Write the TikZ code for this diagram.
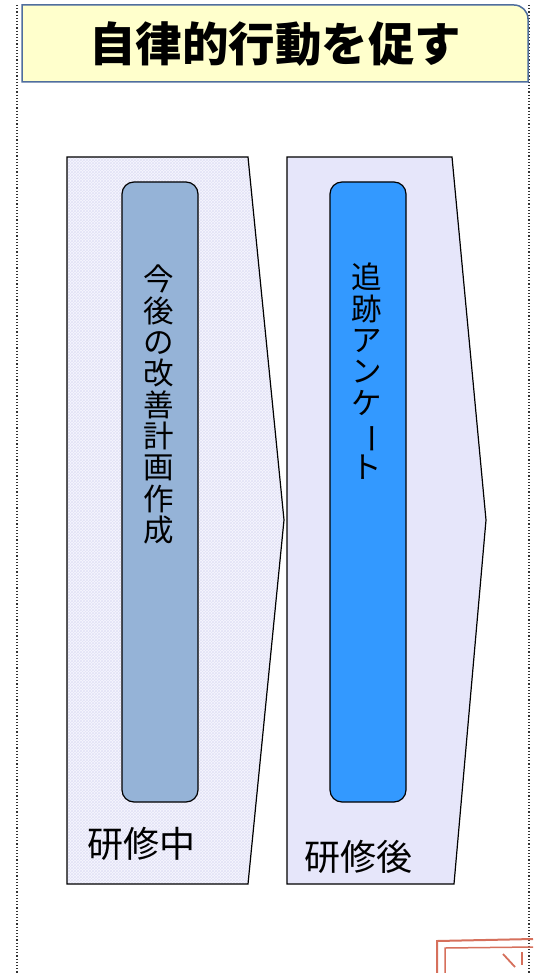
\documentclass[tikz,border=0pt]{standalone}
\usepackage{fontspec}
\setmainfont{Noto Sans CJK JP}
\usetikzlibrary{patterns}
\definecolor{titlefill}{RGB}{255,255,204}
\definecolor{titleedge}{RGB}{79,110,158}
\definecolor{leftbg}{RGB}{247,247,255}
\definecolor{lefthatch}{RGB}{226,226,246}
\definecolor{rightbg}{RGB}{230,230,250}
\definecolor{barone}{RGB}{149,179,215}
\definecolor{bartwo}{RGB}{51,153,255}
\definecolor{stamp}{RGB}{214,112,92}
\tikzset{
  chevron/.style={draw=black, line width=1.2pt, line join=miter},
  bar/.style={draw=black, line width=1.2pt, rounded corners=12pt},
  vtext/.style={align=center, font=\fontsize{30.5}{31.3}\selectfont, inner sep=0pt},
  phase/.style={font=\fontsize{36}{38}\selectfont, inner sep=0pt},
  frame/.style={dotted, line width=1.2pt, black!80},
  stampline/.style={draw=stamp, line width=2pt}
}
\begin{document}
\begin{tikzpicture}[x=1pt,y=-1pt]
\useasboundingbox (0,0) rectangle (533,973);
\fill[white] (0,0) rectangle (533,973);
% dotted frame
\draw[frame] (17,5) -- (17,973);
\draw[frame] (529,5) -- (529,973);
% title box
\draw[fill=titlefill, draw=titleedge, line width=1.5pt]
  (22,82) -- (22,5) -- (514,5) arc[start angle=-90, end angle=0, radius=14] -- (528,82) -- cycle;
\node[font=\fontsize{46.5}{50}\selectfont\bfseries, inner sep=0pt] (title) at (275,44) {自律的行動を促す};
% left chevron
\fill[leftbg] (67,157) -- (248,157) -- (284,520) -- (248,884) -- (67,884) -- cycle;
\fill[pattern=crosshatch, pattern color=lefthatch] (67,157) -- (248,157) -- (284,520) -- (248,884) -- (67,884) -- cycle;
\draw[chevron] (67,157) -- (248,157) -- (284,520) -- (248,884) -- (67,884) -- cycle;
% right chevron
\draw[chevron, fill=rightbg] (287,157) -- (452,157) -- (486,520) -- (454,884) -- (287,884) -- cycle;
% bars
\draw[bar, fill=barone] (122,182) rectangle (198,802);
\draw[bar, fill=bartwo] (330,182) rectangle (406,802);
% vertical texts
\node[vtext, anchor=north] (plan) at (159,265) {今\\後\\の\\改\\善\\計\\画\\作\\成};
\node[vtext, anchor=north] (survey) at (367,263) {追\\跡\\ア\\ン\\ケ\\\rotatebox[origin=c]{-90}{ー}\\ト};
% phase labels
\node[phase] (during) at (141,844) {研修中};
\node[phase] (after) at (358,857) {研修後};
% stamp fragment
\draw[stampline] (437,973) -- (437,941) -- (533,939);
\draw[stamp, line width=1.5pt] (445,973) -- (445,948) -- (533,947);
\draw[stamp, line width=1.8pt] (503,954) -- (515,967);
\draw[stamp, line width=1.8pt] (522,952) -- (522,965);
\end{tikzpicture}
\end{document}
